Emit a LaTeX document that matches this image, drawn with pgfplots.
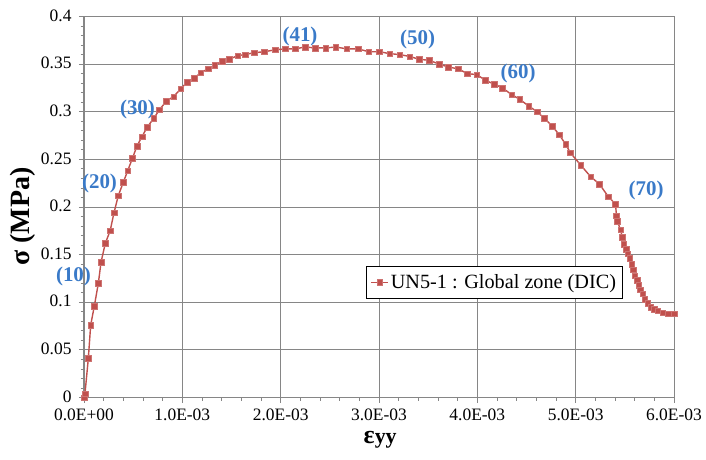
\documentclass[border=0pt]{standalone}
\usepackage{fontspec}
\setmainfont{Liberation Serif}
\usepackage{pgfplots}
\usepackage{pgfplotstable}
\pgfplotsset{compat=1.18}
\definecolor{serred}{RGB}{192,80,77}
\definecolor{lblblue}{RGB}{58,122,200}
\definecolor{gridgray}{RGB}{134,134,134}

\pgfplotstableread{
eps sigma
0 0
0.010e-3 0.004
0.044e-3 0.041
0.068e-3 0.076
0.105e-3 0.096
0.146e-3 0.120
0.173e-3 0.142
0.217e-3 0.162
0.266e-3 0.175
0.305e-3 0.194
0.349e-3 0.212
0.400e-3 0.226
0.444e-3 0.238
0.492e-3 0.251
0.539e-3 0.264
0.590e-3 0.274
0.644e-3 0.284
0.709e-3 0.293
0.766e-3 0.302
0.837e-3 0.311
0.912e-3 0.316
0.983e-3 0.324
1.048e-3 0.331
1.119e-3 0.335
1.187e-3 0.341
1.261e-3 0.345
1.329e-3 0.349
1.403e-3 0.353
1.478e-3 0.355
1.563e-3 0.359
1.638e-3 0.360
1.729e-3 0.362
1.834e-3 0.363
1.943e-3 0.365
2.048e-3 0.366
2.148e-3 0.366
2.248e-3 0.368
2.353e-3 0.367
2.459e-3 0.367
2.560e-3 0.368
2.672e-3 0.366
2.787e-3 0.366
2.896e-3 0.363
3.004e-3 0.363
3.110e-3 0.361
3.212e-3 0.360
3.313e-3 0.358
3.411e-3 0.355
3.513e-3 0.354
3.611e-3 0.350
3.706e-3 0.347
3.805e-3 0.345
3.899e-3 0.340
3.995e-3 0.339
4.082e-3 0.333
4.171e-3 0.329
4.255e-3 0.325
4.349e-3 0.318
4.432e-3 0.313
4.522e-3 0.306
4.608e-3 0.300
4.683e-3 0.293
4.761e-3 0.285
4.832e-3 0.276
4.897e-3 0.266
4.946e-3 0.257
5.051e-3 0.244
5.151e-3 0.232
5.242e-3 0.224
5.331e-3 0.211
5.405e-3 0.203
5.415e-3 0.191
5.425e-3 0.185
5.456e-3 0.176
5.476e-3 0.168
5.490e-3 0.161
5.511e-3 0.156
5.531e-3 0.151
5.548e-3 0.146
5.568e-3 0.140
5.585e-3 0.134
5.602e-3 0.128
5.623e-3 0.123
5.643e-3 0.118
5.659e-3 0.113
5.680e-3 0.109
5.704e-3 0.103
5.731e-3 0.099
5.761e-3 0.095
5.796e-3 0.093
5.836e-3 0.091
5.887e-3 0.089
5.944e-3 0.088
6.000e-3 0.088
}\datatable

\begin{document}
\begin{tikzpicture}
\begin{axis}[
  scale only axis,
  width=590bp, height=381bp,
  xmin=0, xmax=6e-3, ymin=0, ymax=0.4,
  scaled x ticks=false, scaled y ticks=false,
  xtick={0,1e-3,2e-3,3e-3,4e-3,5e-3,6e-3},
  xticklabels={0.0E+00,1.0E-03,2.0E-03,3.0E-03,4.0E-03,5.0E-03,6.0E-03},
  ytick={0,0.05,0.1,0.15,0.2,0.25,0.3,0.35,0.4},
  yticklabels={0,0.05,0.1,0.15,0.2,0.25,0.3,0.35,0.4},
  minor x tick num=4, minor y tick num=4,
  xtick pos=bottom, ytick pos=left,
  tick align=outside,
  major tick length=5bp, minor tick length=3.3bp,
  every tick/.style={draw=gridgray, line width=0.8bp},
  axis line style={draw=gridgray, line width=1bp},
  grid=major,
  major grid style={draw=gridgray, line width=0.9bp},
  /pgf/number format/assume math mode=true,
  tick label style={font=\fontsize{17.5}{20}\selectfont, text=black},
  xticklabel style={yshift=-2.5bp},
  yticklabel style={xshift=-4bp, yshift=1bp},
  xlabel={\textbf{\fontsize{26}{28}\selectfont ε\fontsize{22}{26}\selectfont yy}},
  ylabel={\textbf{σ (MPa)}},
  ylabel style={font=\fontsize{28}{32}\selectfont, at={(axis description cs:-0.104,0.4745)}, anchor=center, rotate=0},
  xlabel style={at={(axis description cs:0.502,-0.110)}, anchor=center},
  clip=false,
  legend style={at={(axis description cs:0.478,0.345)}, anchor=north west,
    draw=black, line width=0.8bp, font=\fontsize{20.3}{23}\selectfont,
    inner xsep=4bp, inner ysep=6bp, fill=white},
  legend cell align=left,
]
\addplot[color=serred, line width=1.4bp, mark=square*, mark size=2.8bp,
  mark options={fill=serred, draw=serred!80!white, line width=0.4bp}]
  table[x=eps, y=sigma] {\datatable};
\addlegendentry{UN5-1 : Global zone (DIC)}
\begin{scope}[every node/.style={font=\bfseries\fontsize{21}{24}\selectfont, text=lblblue, anchor=center}]
\node at (axis cs:-0.107e-3,0.1274) {(10)};
\node at (axis cs:0.158e-3,0.2246) {(20)};
\node at (axis cs:0.544e-3,0.3023) {(30)};
\node at (axis cs:2.197e-3,0.3795) {(41)};
\node at (axis cs:3.393e-3,0.376) {(50)};
\node at (axis cs:4.415e-3,0.340) {(60)};
\node at (axis cs:5.717e-3,0.2178) {(70)};
\end{scope}
\end{axis}
\pgfresetboundingbox
\path[use as bounding box] ([xshift=-84bp,yshift=-61.7bp]current axis.south west) rectangle ([xshift=32bp,yshift=16.5bp]current axis.north east);
\end{tikzpicture}
\end{document}
